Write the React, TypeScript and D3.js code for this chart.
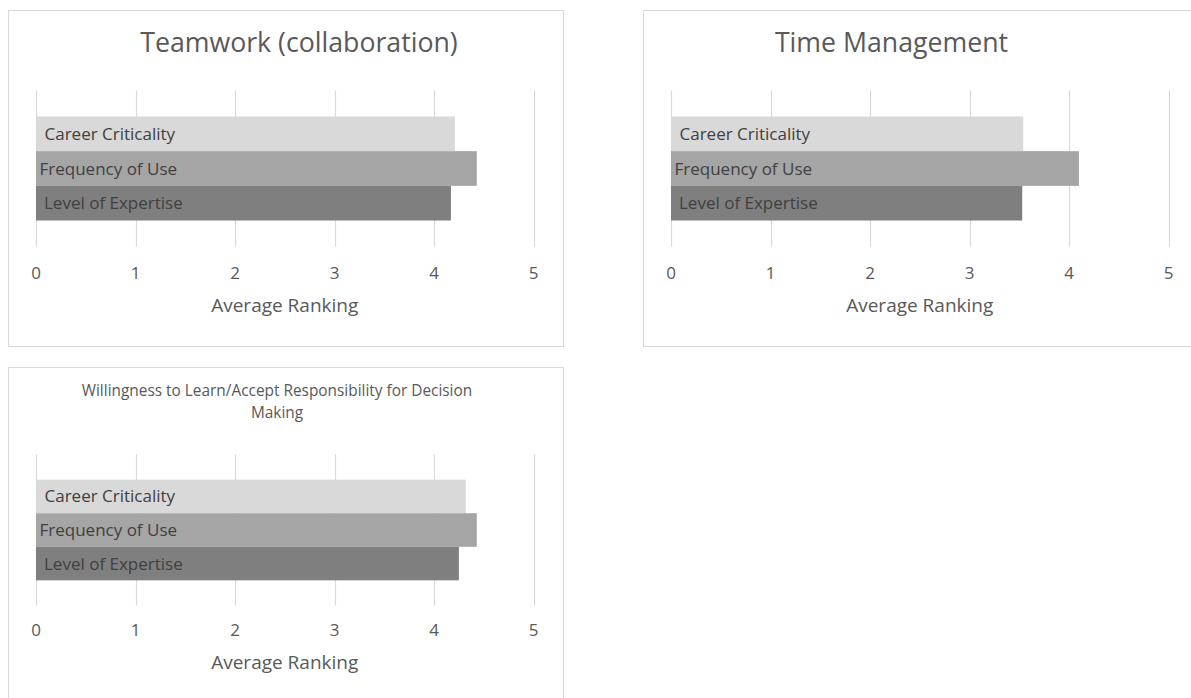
import React from "react";
import * as d3 from "d3";

// ---- data ----
const seriesNames = ["Career Criticality", "Frequency of Use", "Level of Expertise"];
const panelTitles = [
  ["Teamwork (collaboration)"],
  ["Time Management"],
  ["Willingness to Learn/Accept Responsibility for Decision", "Making"],
];
const teamworkValues = [4.21, 4.43, 4.17];
const timeManagementValues = [3.54, 4.1, 3.53];
const willingnessValues = [4.32, 4.43, 4.25];
const xTicks = [0, 1, 2, 3, 4, 5];
const xAxisTitle = "Average Ranking";

// ---- styles ----
const FONT = "'Open Sans', 'DejaVu Sans', sans-serif";
const barColors = ["#d9d9d9", "#a5a5a5", "#7f7f7f"];
const labelOffsets = [8.5, 3.5, 8];
const PANEL_W = 555;
const PANEL_H = 336;

type PanelLayout = {
  x: number;
  y: number;
  plotTop: number;
  plotBottom: number;
  titleSize: number;
  titleX: number;
  titleBaselines: number[];
};

const layouts: PanelLayout[] = [
  { x: 8, y: 10, plotTop: 80.5, plotBottom: 236.5, titleSize: 26.7, titleX: 291, titleBaselines: [41.5] },
  { x: 643, y: 10, plotTop: 80.5, plotBottom: 236.5, titleSize: 26.7, titleX: 248.5, titleBaselines: [41.5] },
  { x: 8, y: 367, plotTop: 87.5, plotBottom: 238.5, titleSize: 15.4, titleX: 269, titleBaselines: [29.2, 51.2] },
];

const panelValues = [teamworkValues, timeManagementValues, willingnessValues];

function Panel({ idx }: { idx: number }) {
  const L = layouts[idx];
  const values = panelValues[idx];
  const x = d3.scaleLinear().domain([0, 5]).range([28, 525.5]);
  const y = d3
    .scaleBand<string>()
    .domain(seriesNames)
    .range([L.plotTop, L.plotBottom])
    .paddingInner(0)
    .paddingOuter(0.75);
  return (
    <g transform={`translate(${L.x},${L.y})`}>
      <rect x={0.5} y={0.5} width={PANEL_W} height={PANEL_H} fill="#ffffff" stroke="#d9d9d9" strokeWidth={1} />
      {panelTitles[idx].map((t, i) => (
        <text
          key={i}
          x={L.titleX}
          y={L.titleBaselines[i]}
          textAnchor="middle"
          fontFamily={FONT}
          fontSize={L.titleSize}
          fill="#595959"
        >
          {t}
        </text>
      ))}
      {xTicks.map((t) => (
        <line
          key={t}
          x1={Math.round(x(t)) + 0.5}
          x2={Math.round(x(t)) + 0.5}
          y1={L.plotTop}
          y2={L.plotBottom}
          stroke="#d9d9d9"
          strokeWidth={1.2}
        />
      ))}
      {seriesNames.map((s, i) => (
        <rect
          key={s}
          x={x(0)}
          y={y(s)!}
          width={x(values[i]) - x(0)}
          height={y.bandwidth()}
          fill={barColors[i]}
        />
      ))}
      {seriesNames.map((s, i) => (
        <text
          key={s}
          x={x(0) + labelOffsets[i]}
          y={y(s)! + y.bandwidth() / 2 + 6}
          fontFamily={FONT}
          fontSize={17}
          fill="#404040"
        >
          {s}
        </text>
      ))}
      {xTicks.map((t) => (
        <text
          key={t}
          x={x(t)}
          y={269}
          textAnchor="middle"
          fontFamily={FONT}
          fontSize={17}
          fill="#595959"
        >
          {t}
        </text>
      ))}
      <text
        x={(x(0) + x(5)) / 2}
        y={302}
        textAnchor="middle"
        fontFamily={FONT}
        fontSize={19}
        fill="#595959"
      >
        {xAxisTitle}
      </text>
    </g>
  );
}

export default function App() {
  return (
    <svg
      width={1191}
      height={698}
      style={{ position: "fixed", left: 0, top: 0, background: "#ffffff" }}
    >
      <rect x={0} y={0} width={1191} height={698} fill="#ffffff" />
      {layouts.map((_, i) => (
        <Panel key={i} idx={i} />
      ))}
    </svg>
  );
}
